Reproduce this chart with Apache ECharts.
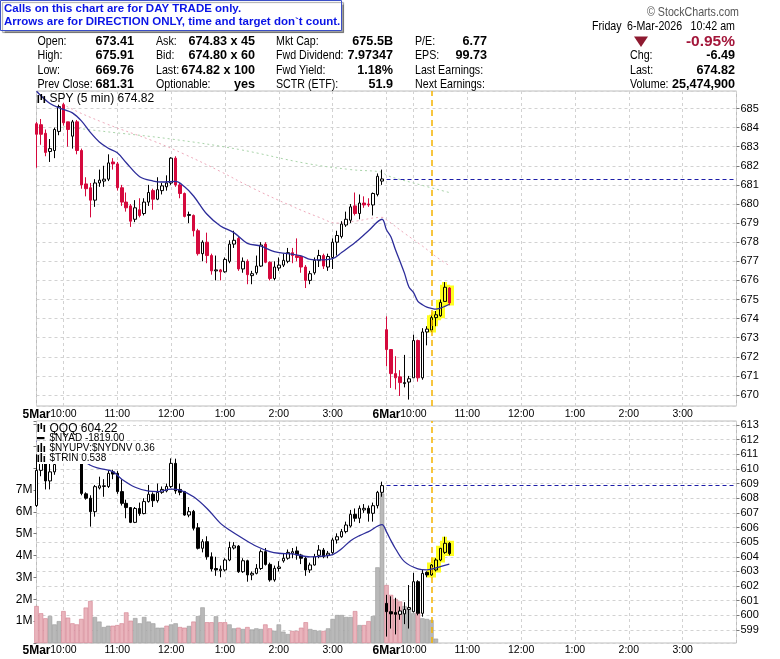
<!DOCTYPE html>
<html>
<head>
<meta charset="utf-8">
<script src="https://cdn.jsdelivr.net/npm/echarts@6.0.0/dist/echarts.min.js"></script>
<style>
html,body{margin:0;padding:0;background:#fff;}
#chart{width:780px;height:659px;}
</style>
</head>
<body>
<div id="chart"></div>
<script>
// ---------- DATA ----------
const dayNames = ['5Mar', '6Mar'];
const callTime = '6Mar 10:20';
const highlightTimes = ['6Mar 10:20', '6Mar 10:25', '6Mar 10:30', '6Mar 10:35', '6Mar 10:40'];
const spyPrevClose = 681.31;
const qqqPrevClose = 608.86;

const spyOpen = [684.2,684.15,683.7,682.75,682.8,683.8,685.2,684.3,683.55,684.3, 682.8,681.05,680.85,680.2,681.1,681.2,681.3,682.2,682.1,680.85, 680.1,679.9,679.2,679.7,679.5,680.1,680.7,680.25,680.7,680.9, 681.1,682.4,681.0,680.55,679.4,679.4,678.6,677.4,678.0,677.3, 676.5,676.55,676.45,677.0,677.9,678.2,676.6,677.0,676.25,676.4, 676.75,677.9,676.95,676.1,676.65,676.8,677.0,677.45,677.3,677.25, 676.7,676.0,676.4,677.05,677.3,676.7,677.2,678.0,678.3,678.9, 679.15,679.9,679.5,680.05,680.0,679.95,680.5,681.2, 673.42,672.38,671.12,670.95,670.6,670.68,670.9,672.85,670.9,673.3,673.4,674.05,674.15,674.9,675.6];
const spyHigh = [684.3,684.45,683.9,683.4,684.0,685.2,685.3,684.3,684.4,684.4, 682.9,681.4,681.1,681.3,681.8,682.0,682.6,682.4,682.2,681.0, 680.6,680.0,680.2,680.3,680.3,681.0,680.8,681.4,681.1,681.5, 682.45,682.5,681.1,680.6,679.6,679.45,678.7,678.1,678.5,677.4, 677.3,676.6,677.2,678.1,678.6,678.3,677.2,677.1,676.5,677.3, 678.0,678.0,677.0,677.0,677.2,677.4,677.7,677.7,678.2,677.3, 676.8,676.5,677.2,677.6,677.4,677.4,678.2,678.6,679.1,679.6, 680.0,680.6,680.5,680.4,680.3,680.6,681.6,681.8, 674.12,672.4,672.03,671.3,672.1,671.0,673.16,672.9,673.5,673.6,674.2,674.4,675.0,675.91,675.65];
const spyLow = [681.9,683.1,682.5,682.2,682.4,683.6,684.1,683.0,682.9,682.6, 680.8,680.4,679.3,679.85,680.9,680.9,681.2,681.8,680.7,679.9, 679.6,678.8,679.05,679.3,679.4,679.9,679.7,680.2,680.5,680.7, 681.0,680.9,680.3,679.3,679.0,678.3,677.3,677.0,676.9,676.3, 676.0,676.0,676.4,676.9,677.7,676.5,676.4,675.8,675.8,676.3, 676.7,676.9,676.0,676.0,676.5,676.7,676.9,676.9,677.0,676.4, 675.6,675.8,676.3,676.7,676.6,676.5,676.6,677.3,678.2,678.8, 679.0,679.4,679.2,679.8,679.85,679.4,680.4,681.0, 671.5,670.37,670.29,669.95,670.4,669.76,670.9,670.7,670.8,672.6,673.3,673.6,674.1,674.9,674.7];
const spyClose = [683.65,683.65,682.7,682.9,683.9,685.1,684.25,683.9,684.3,682.8, 681.0,680.8,680.2,681.1,681.25,681.3,682.15,682.1,680.85,680.1, 679.8,679.1,679.8,679.4,680.1,680.6,680.25,680.75,680.95,681.1, 682.4,681.0,680.55,679.35,679.45,678.6,677.4,678.0,677.3,676.5, 676.55,676.45,677.1,677.9,678.1,676.6,677.0,676.3,676.35,676.75, 677.85,676.95,676.1,676.7,676.8,677.05,677.45,677.3,677.2,676.7, 676.0,676.35,677.05,677.3,676.75,677.25,678.0,678.35,678.95,679.2, 679.85,679.5,680.05,679.95,679.95,680.55,681.45,681.31, 672.38,671.12,670.9,670.65,670.65,670.85,672.85,670.9,673.3,673.45,674.05,674.2,674.85,675.64,674.82];

const qqqOpen = [607.5,609.9,610.6,609.18,609.8,610.6,611.2,611.8,611.5,611.0, 610.6,608.3,608.0,607.08,608.7,608.8,608.8,609.8,609.7,608.45, 607.65,607.36,606.35,607.3,606.95,607.77,608.27,607.83,608.4,608.5, 608.8,610.38,608.6,608.45,606.85,607.1,605.98,604.58,605.03,604.0, 603.2,603.05,603.1,603.78,604.6,604.73,602.98,603.73,602.76,602.87, 603.2,604.35,603.48,602.42,603.2,603.72,603.9,604.24,604.4,604.12, 603.9,603.1,603.44,604.1,604.46,604.12,604.28,605.15,605.37,605.72, 606.1,606.9,606.63,607.2,607.31,606.97,607.49,608.4, 600.82,600.25,600.2,600.07,600.1,600.41,600.25,602.3,600.14,602.94,602.76,603.1,603.78,604.3,604.92];
const qqqHigh = [611.0,611.0,611.0,610.4,611.0,611.6,612.1,612.3,611.8,611.3, 610.7,608.4,608.2,608.9,609.47,609.3,609.9,609.95,609.85,609.3, 607.9,607.4,607.4,607.7,608.0,608.9,608.4,609.0,608.8,609.0, 610.72,610.7,609.0,608.5,607.4,607.2,606.3,605.2,605.4,604.3, 604.0,603.4,603.9,605.03,605.0,604.8,603.9,603.8,603.0,603.5, 604.5,604.6,603.6,603.4,603.7,604.2,604.5,604.6,604.7,604.2, 604.0,603.6,604.2,604.8,604.6,604.4,605.3,605.6,605.9,606.4, 607.2,607.3,607.5,607.6,607.5,607.7,608.5,609.13, 601.4,601.3,601.2,600.6,600.9,602.07,602.9,602.4,603.1,603.0,603.5,603.9,604.6,605.37,605.0];
const qqqLow = [607.4,609.5,608.6,608.6,609.6,610.5,611.0,611.2,610.8,610.5, 608.2,607.9,606.06,606.74,608.6,608.1,608.7,609.3,608.3,607.5, 606.63,606.3,606.3,606.8,606.9,607.7,607.4,607.7,608.3,608.4, 608.7,608.3,608.2,606.8,606.7,605.8,604.5,604.3,603.8,603.0, 602.7,602.6,603.0,603.7,604.5,602.9,602.9,602.3,602.4,602.8, 603.1,603.4,602.3,602.3,603.0,603.6,603.8,603.9,603.8,603.5, 602.7,602.9,603.4,603.9,603.9,603.9,604.2,604.9,605.3,605.6, 606.0,606.4,606.3,607.0,606.4,606.4,607.3,608.1, 598.55,599.1,598.7,599.7,599.4,599.1,600.2,600.0,599.91,602.6,602.7,603.0,603.7,604.2,604.1];
const qqqClose = [609.9,610.5,609.18,609.8,610.3,611.2,611.8,611.5,611.0,610.6, 608.33,608.0,607.08,608.79,608.85,608.85,609.7,609.65,608.45,607.65, 607.36,606.35,607.3,606.95,607.77,608.27,607.83,608.4,608.6,608.8, 610.38,608.5,608.4,606.85,607.08,605.95,604.58,605.03,604.0,603.17, 603.1,603.15,603.78,604.63,604.75,602.98,603.73,602.76,602.87,603.21, 604.35,603.48,602.42,603.21,603.3,603.9,604.3,604.35,604.12,603.9, 603.1,603.44,604.0,604.46,604.0,604.24,605.15,605.37,605.72,606.17, 606.9,606.63,607.31,607.31,606.97,607.49,608.4,608.86, 600.25,600.1,600.07,600.3,600.4,600.53,602.3,600.14,602.87,602.76,603.44,603.78,604.58,604.92,604.22];

// $NYUPV:$NYDNV style histogram (millions) and its colour class (p = pink, g = grey)
const histVol = [1.69,1.36,1.13,1.23,0.85,1.00,1.46,1.16,0.90,0.85, 1.10,1.62,1.92,1.19,0.98,0.73,0.79,0.79,0.82,0.90, 1.40,1.02,1.14,0.90,1.19,0.98,0.90,0.70,0.70,0.79, 0.85,0.90,0.73,0.70,0.78,0.98,1.23,1.63,0.95,0.95, 1.22,0.95,0.95,0.85,0.67,0.70,0.64,0.73,0.62,0.67, 0.64,0.85,0.67,0.56,0.85,0.52,0.41,0.55,0.55,0.70, 0.95,0.64,0.59,0.55,0.55,0.67,1.10,1.28,1.28,1.19, 1.19,1.46,0.82,0.82,1.00,1.23,3.46,6.84, 2.65,2.20,2.01,1.90,1.69,1.59,1.36,1.43,1.13,1.10,1.05,0.20];
const histKind = ['p','p','p','g','g','g','p','p','p','p', 'p','p','p','g','g','g','g','p','p','p', 'p','p','g','g','g','g','g','g','g','p', 'g','g','p','p','g','p','g','g','p','p', 'g','p','p','g','g','p','g','p','g','g', 'g','p','p','g','g','g','g','p','p','p', 'p','g','g','g','p','g','g','g','g','g', 'g','p','g','p','p','g','g','g', 'p','p','p','p','g','g','g','p','g','g','g','g'];

// moving averages: [bar index, value]
const spyMa = [[0,685.9],[3,685.26],[6,684.95],[8,684.77],[10,684.35],[12,683.75],[14,683.25],[16,682.92],[18,682.68],[20,682.16],[23,681.43],[26,681.2],[28,681.15],[31,681.18],[33,680.9],[35,680.42],[38,679.46],[41,678.85],[44,678.5],[47,677.94],[50,677.8],[53,677.5],[56,677.4],[59,677.28],[61,677.1],[63,677.07],[66,677.14],[68,677.46],[71,677.98],[74,678.6],[77,679.2],[78,678.65],[79,678.27],[80,677.6],[81,677.0],[82,676.38],[83,675.65],[84,675.37],[85,674.9],[86,674.73],[87,674.6],[88,674.54],[89,674.5],[90,674.55],[91,674.64],[92,674.75]];
const spyMaSlow = [[4,685.6],[6,685.2],[15,684.25],[26,683.3],[33,682.6],[41,681.7],[48,680.85],[56,679.98],[63,679.3],[67,679.0],[71,679.1],[77,679.3],[78,679.17],[82,678.47],[86,677.8],[89,677.25],[92,676.77]];
const spyMaLong = [[6,684.05],[15,683.8],[30,683.4],[45,682.86],[60,682.13],[70,681.8],[77,681.67],[78,681.5],[84,681.1],[92,680.6]];
const qqqMa = [[0,611.9],[5,611.5],[9,610.9],[12,610.25],[14,610.04],[17,609.81],[19,609.3],[22,608.75],[25,608.48],[27,608.45],[30,608.62],[32,608.56],[35,608.1],[38,607.3],[41,606.28],[43,605.83],[46,605.25],[49,604.72],[52,604.35],[54,604.24],[57,604.2],[61,604.0],[64,604.05],[66,604.15],[68,604.55],[70,605.1],[72,605.45],[74,605.72],[77,606.2],[78,605.7],[79,605.1],[80,604.55],[82,603.67],[85,603.17],[87,603.1],[88,603.15],[90,603.33],[92,603.5]];

// ---------- BUILD ----------
function pad(n){return (n<10?'0':'')+n;}
const cats = [];
for (let d = 0; d < 2; d++) {
  for (let k = 0; k < 78; k++) { const m = 570 + 5*k; cats.push(dayNames[d] + ' ' + pad(Math.floor(m/60)) + ':' + pad(m%60)); }
}
cats.push('6Mar 16:00');

function tickText(v){
  const parts = v.split(' '); const hm = parts[1].split(':').map(Number);
  if (hm[0] === 9 && hm[1] === 30) return '{d|' + parts[0] + '}';
  if (hm[1] === 0 && hm[0] < 16) return (hm[0] > 12 ? hm[0]-12 : hm[0]) + ':00';
  return '';
}
const hl = new Set(highlightTimes);
const RED = '#d5093d';
const SANS = "'Liberation Sans', Arial, sans-serif";
const GRIDLINE = {color:'#d2d2d2', type:[3,3], width:1};

function candles(O,H,L,C){
  return O.map((o,i)=>{
    const it = {value:[o, C[i], L[i], H[i]]};
    if (hl.has(cats[i]) && C[i] >= o) it.itemStyle = {color:'#ffff20'};
    return it;
  });
}
function glow(O,H,L,C){
  return O.map((o,i)=> hl.has(cats[i]) ? [o, C[i], L[i], H[i]] : '-');
}
function pts(arr){ return arr.map(p=>[cats[p[0]], p[1]]); }

const spyMin = 669.425, spyMax = 685.915;
const qqqMin = 598.112, qqqMax = 613.273;

function xAxisCfg(g){
  return {
    type:'category', gridIndex:g, data:cats, boundaryGap:false,
    axisLine:{show:false}, axisTick:{show:false},
    axisLabel:{interval:0, formatter:(v)=>tickText(v), fontSize:10.5, fontFamily:SANS, color:'#000', margin:g===0?3:2,
      hideOverlap:false,
      rich:{d:{fontWeight:'bold', fontSize:12, fontFamily:SANS, color:'#000'}}},
    splitLine:{show:true, interval:(i,v)=>tickText(v)!=='' || i===cats.length-1, lineStyle:GRIDLINE}
  };
}
function priceAxis(g, mn, mx){
  return {
    type:'value', gridIndex:g, position:'right', min:mn, max:mx, splitNumber:16, minInterval:1, maxInterval:1,
    axisLine:{show:false}, axisTick:{show:true, length:3, lineStyle:{color:'#777'}},
    axisLabel:{fontSize:11, fontFamily:SANS, color:'#000', margin:4, showMinLabel:false, showMaxLabel:false},
    splitLine:{show:true, lineStyle:GRIDLINE}
  };
}

const chart = echarts.init(document.getElementById('chart'), null, {renderer:'canvas'});

const option = {
  animation:false,
  backgroundColor:'#ffffff',
  grid:[
    {left:36.5, width:700, top:91, height:315, show:true, borderColor:'#bdbdbd', borderWidth:1, backgroundColor:'#fff', containLabel:false},
    {left:36.5, width:700, top:421, height:222, show:true, borderColor:'#bdbdbd', borderWidth:1, backgroundColor:'#fff', containLabel:false}
  ],
  xAxis:[xAxisCfg(0), xAxisCfg(1)],
  yAxis:[
    priceAxis(0, spyMin, spyMax),
    priceAxis(1, qqqMin, qqqMax),
    {type:'value', gridIndex:1, position:'left', min:0, max:10.15, interval:1,
      axisLine:{show:false}, axisTick:{show:true, length:3, lineStyle:{color:'#777'}},
      axisLabel:{fontSize:12, fontFamily:SANS, color:'#000', margin:4, formatter:(v)=> (v>=1 && v<=7) ? v+'M' : ''},
      splitLine:{show:false}}
  ],
  series:[
    // SPY
    {type:'line', xAxisIndex:0, yAxisIndex:0, data:pts(spyMaLong), showSymbol:false, smooth:0.4, z:2,
      lineStyle:{color:'#a9d4a9', width:1, type:[2,3]}},
    {type:'line', xAxisIndex:0, yAxisIndex:0, data:pts(spyMaSlow), showSymbol:false, smooth:0.4, z:2,
      lineStyle:{color:'#eeaabb', width:1, type:[2,3]}},
    {type:'candlestick', xAxisIndex:0, yAxisIndex:0, data:glow(spyOpen,spyHigh,spyLow,spyClose), barWidth:5, z:3,
      itemStyle:{color:'#ffff20', color0:'#ffff20', borderColor:'#ffff20', borderColor0:'#ffff20', borderWidth:5}},
    {type:'candlestick', xAxisIndex:0, yAxisIndex:0, data:candles(spyOpen,spyHigh,spyLow,spyClose), barWidth:3, z:4,
      itemStyle:{color:'#ffffff', color0:RED, borderColor:'#000000', borderColor0:RED, borderWidth:1},
      markLine:{silent:true, symbol:'none', label:{show:false}, animation:false,
        data:[
          {xAxis:callTime, lineStyle:{color:'#f5b400', type:[6,4], width:1.5}},
          [{coord:[cats[78], spyPrevClose], lineStyle:{color:'#1c1ca8', type:[4,3], width:1}}, {coord:[cats[cats.length-1], spyPrevClose]}]
        ]}},
    {type:'line', xAxisIndex:0, yAxisIndex:0, data:pts(spyMa), showSymbol:false, smooth:0.35, z:5,
      lineStyle:{color:'#2d2d9a', width:1.3}},
    // QQQ panel
    {type:'bar', xAxisIndex:1, yAxisIndex:2, barWidth:4.5, z:1,
      data:histVol.map((v,i)=>({value:v, itemStyle:{color: histKind[i]==='p' ? '#e9b4bc' : '#b9b9b9', borderColor: histKind[i]==='p' ? '#d47f8f' : '#9a9a9a', borderWidth:0.6}}))},
    {type:'candlestick', xAxisIndex:1, yAxisIndex:1, data:glow(qqqOpen,qqqHigh,qqqLow,qqqClose), barWidth:5, z:3,
      itemStyle:{color:'#ffff20', color0:'#ffff20', borderColor:'#ffff20', borderColor0:'#ffff20', borderWidth:5}},
    {type:'candlestick', xAxisIndex:1, yAxisIndex:1, data:candles(qqqOpen,qqqHigh,qqqLow,qqqClose), barWidth:3, z:4,
      itemStyle:{color:'#ffffff', color0:'#000000', borderColor:'#000000', borderColor0:'#000000', borderWidth:1},
      markLine:{silent:true, symbol:'none', label:{show:false}, animation:false,
        data:[
          {xAxis:callTime, lineStyle:{color:'#f5b400', type:[6,4], width:1.5}},
          [{coord:[cats[78], qqqPrevClose], lineStyle:{color:'#1c1ca8', type:[4,3], width:1}}, {coord:[cats[cats.length-1], qqqPrevClose]}]
        ]}},
    {type:'line', xAxisIndex:1, yAxisIndex:1, data:pts(qqqMa), showSymbol:false, smooth:0.35, z:5,
      lineStyle:{color:'#2d2d9a', width:1.3}}
  ]
};
chart.setOption(option);

// ---------- TEXT / DECORATION ----------
// narrow text = Liberation Sans squeezed horizontally
function txt(id, x, y, s, opt){
  opt = opt || {};
  const al = opt.align || 'left';
  return {type:'text', id:id, x:x, y:y, z:opt.z||20, silent:true, scaleX:opt.sx||1, scaleY:1,
    style:{text:s, fill:opt.fill||'#000', fontSize:opt.size||13, fontFamily:SANS, fontWeight:opt.weight||'normal',
      align:al, textAlign:al, verticalAlign:'middle', textVerticalAlign:'middle'}};
}
const NX = 0.82;
const g = [];
// notice box
g.push({type:'rect', id:'nbox', z:20, shape:{x:0.5, y:0.5, width:341, height:30},
  style:{fill:'#fff', stroke:'#3b4fc8', lineWidth:1, shadowColor:'rgba(0,0,0,0.35)', shadowOffsetX:2, shadowOffsetY:2, shadowBlur:1}});
g.push(txt('n1', 4, 8.5, 'Calls on this chart are for DAY TRADE only.', {fill:'#0a14e6', weight:'bold', size:11.5, z:21}));
g.push(txt('n2', 4, 21.5, 'Arrows are for DIRECTION ONLY, time and target don`t count.', {fill:'#0a14e6', weight:'bold', size:11.5, z:21}));
g.push(txt('sc', 739, 12, '\u00A9 StockCharts.com', {fill:'#555', size:13, sx:NX, align:'right'}));
g.push(txt('d1', 592, 26, 'Friday', {sx:NX}));
g.push(txt('d2', 627, 26, '6-Mar-2026', {sx:NX}));
g.push(txt('d3', 735, 26, '10:42 am', {align:'right', sx:NX}));

const rowsY = [41.5, 55.7, 70, 84.2];
const cols = [
  {lx:37.5, vx:134, labels:['Open:','High:','Low:','Prev Close:'], values:['673.41','675.91','669.76','681.31']},
  {lx:156, vx:255, labels:['Ask:','Bid:','Last:','Optionable:'], values:['674.83 x 45','674.80 x 60','674.82 x 100','yes']},
  {lx:276, vx:393, labels:['Mkt Cap:','Fwd Dividend:','Fwd Yield:','SCTR (ETF):'], values:['675.5B','7.97347','1.18%','51.9']},
  {lx:415, vx:487, labels:['P/E:','EPS:','Last Earnings:','Next Earnings:'], values:['6.77','99.73','','']},
  {lx:630, vx:735, labels:['','Chg:','Last:','Volume:'], values:['','-6.49','674.82','25,474,900']}
];
cols.forEach((c,ci)=>{
  c.labels.forEach((l,ri)=>{ if (l) g.push(txt('l'+ci+'_'+ri, c.lx, rowsY[ri], l, {sx:NX})); });
  c.values.forEach((v,ri)=>{ if (v) g.push(txt('v'+ci+'_'+ri, c.vx, rowsY[ri], v, {align:'right', weight:'bold', sx:0.97})); });
});
g.push({type:'polygon', id:'tri', z:20, shape:{points:[[634,36.5],[648,36.5],[641,47]]}, style:{fill:'#8e1a30'}});
g.push(txt('pct', 735, 42, '-0.95%', {align:'right', weight:'bold', size:15.5, fill:'#a3163a'}));

// SPY panel label
[[37.5,95,1.6,8],[40.5,94,1.6,6],[43.5,96,1.6,7]].forEach((r,k)=>g.push({type:'rect', id:'si'+k, z:20, shape:{x:r[0], y:r[1], width:r[2], height:r[3]}, style:{fill:'#000'}}));
g.push(txt('spyl', 49.5, 98.5, 'SPY (5 min) 674.82', {size:12}));

// QQQ legend box (covers price marks, not grid)
g.push({type:'rect', id:'qbox', z:10, shape:{x:37, y:421.5, width:113, height:42.5}, style:{fill:'#fff'}});
const p0 = chart.convertToPixel({xAxisIndex:1, yAxisIndex:1}, [cats[6], 612]);
const pTop = chart.convertToPixel({xAxisIndex:1, yAxisIndex:1}, [cats[0], 613]);
const p611 = chart.convertToPixel({xAxisIndex:1, yAxisIndex:1}, [cats[0], 611]);
[pTop[1], p0[1], p611[1]].forEach((yy,k)=>{
  g.push({type:'line', id:'bh'+k, z:11, shape:{x1:37, y1:Math.round(yy)+0.5, x2:150, y2:Math.round(yy)+0.5}, style:{stroke:'#d2d2d2', lineDash:[3,3], lineWidth:1}});
});
g.push({type:'line', id:'bv', z:11, shape:{x1:Math.round(p0[0])+0.5, y1:421.5, x2:Math.round(p0[0])+0.5, y2:464}, style:{stroke:'#d2d2d2', lineDash:[3,3], lineWidth:1}});
[[37.5,424,1.6,8],[40.5,423,1.6,6],[43.5,425,1.6,7]].forEach((r,k)=>g.push({type:'rect', id:'qi'+k, z:20, shape:{x:r[0], y:r[1], width:r[2], height:r[3]}, style:{fill:'#000'}}));
g.push(txt('ql1', 49.5, 428.5, 'QQQ 604.22', {size:12}));
g.push({type:'rect', id:'ad', z:20, shape:{x:37, y:437, width:7.5, height:2.2}, style:{fill:'#000'}});
g.push(txt('ql2', 49.5, 438.5, '$NYAD -1819.00', {size:10}));
[[37.5,445,1.6,7],[40.5,443,1.6,9],[43.5,446,1.6,6]].forEach((r,k)=>g.push({type:'rect', id:'h1'+k, z:20, shape:{x:r[0], y:r[1], width:r[2], height:r[3]}, style:{fill:'#000'}}));
g.push(txt('ql3', 49.5, 448.5, '$NYUPV:$NYDNV 0.36', {size:10}));
[[37.5,455,1.6,7],[40.5,453,1.6,9],[43.5,456,1.6,6]].forEach((r,k)=>g.push({type:'rect', id:'h2'+k, z:20, shape:{x:r[0], y:r[1], width:r[2], height:r[3]}, style:{fill:'#000'}}));
g.push(txt('ql4', 49.5, 458.5, '$TRIN 0.538', {size:10}));

chart.setOption({graphic:{elements:g}});
</script>
</body>
</html>
